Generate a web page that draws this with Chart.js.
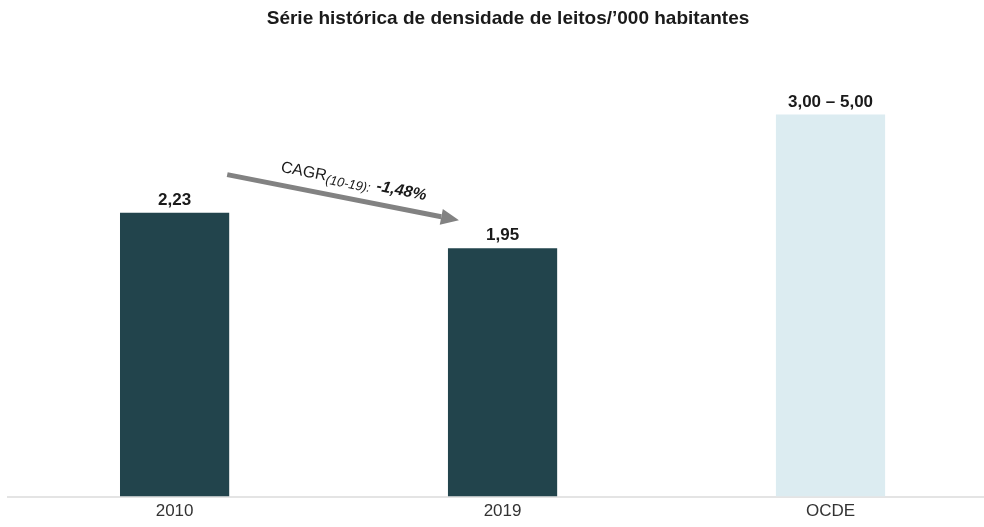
<!DOCTYPE html>
<html>
<head>
<meta charset="utf-8">
<script src="https://cdn.jsdelivr.net/npm/chart.js"></script>
<style>
  html, body { margin: 0; padding: 0; background: #fff; }
  #wrap { width: 984px; height: 527px; }
</style>
</head>
<body>
<div id="wrap"><canvas id="chart" width="984" height="527"></canvas></div>
<script>
const categories = ['2010', '2019', 'OCDE'];
const densidade = [2.23, 1.95, 3.00];
const valueLabels = ['2,23', '1,95', '3,00 – 5,00'];
const barColors = ['#22444c', '#22444c', '#dcecf1'];
const titleText = 'Série histórica de densidade de leitos/\u2019000 habitantes';
const cagrLabel = { base: 'CAGR', sub: '(10-19)', value: '-1,48%' };

const FONT = '"Liberation Sans", Arial, sans-serif';

// title, drawn by hand so it can sit a little right of centre
const titlePlugin = {
  id: 'titlePlugin',
  afterDraw(chart) {
    const ctx = chart.ctx;
    ctx.save();
    ctx.font = 'bold 19px ' + FONT;
    ctx.fillStyle = '#1a1a1a';
    ctx.textAlign = 'center';
    ctx.textBaseline = 'middle';
    ctx.fillText(titleText, 508, 19);
    ctx.restore();
  }
};

// value labels above each bar
const barLabels = {
  id: 'barLabels',
  afterDatasetsDraw(chart) {
    const ctx = chart.ctx;
    const meta = chart.getDatasetMeta(0);
    ctx.save();
    ctx.font = 'bold 17px ' + FONT;
    ctx.fillStyle = '#1a1a1a';
    ctx.textAlign = 'center';
    ctx.textBaseline = 'alphabetic';
    meta.data.forEach((bar, i) => {
      ctx.fillText(valueLabels[i], bar.x, bar.y - 8);
    });
    ctx.restore();
  }
};

// growth arrow between the two historical bars
const cagrArrow = {
  id: 'cagrArrow',
  afterDatasetsDraw(chart) {
    const ctx = chart.ctx;
    const meta = chart.getDatasetMeta(0);
    const a = meta.data[0], b = meta.data[1];
    const x0 = a.x + a.width / 2 - 2, y0 = a.y - 38;
    const x1 = b.x - b.width / 2 + 11, y1 = b.y - 28;
    const ang = Math.atan2(y1 - y0, x1 - x0);
    const head = 18;
    ctx.save();
    ctx.strokeStyle = '#828282';
    ctx.fillStyle = '#828282';
    ctx.lineWidth = 5;
    ctx.beginPath();
    ctx.moveTo(x0, y0);
    ctx.lineTo(x1 - head * Math.cos(ang), y1 - head * Math.sin(ang));
    ctx.stroke();
    ctx.translate(x1, y1);
    ctx.rotate(ang);
    ctx.beginPath();
    ctx.moveTo(0, 0);
    ctx.lineTo(-head, -8);
    ctx.lineTo(-head, 8);
    ctx.closePath();
    ctx.fill();
    ctx.restore();

    // label running along the arrow
    ctx.save();
    ctx.translate(x0 + 53, y0 - 3);
    ctx.rotate(ang);
    ctx.fillStyle = '#1a1a1a';
    ctx.textBaseline = 'alphabetic';
    let x = 0;
    ctx.font = '16px ' + FONT;
    ctx.fillText(cagrLabel.base, x, 0);
    x += ctx.measureText(cagrLabel.base).width;
    ctx.font = 'italic 13px ' + FONT;
    ctx.fillText(cagrLabel.sub + ':', x, 3);
    x += ctx.measureText(cagrLabel.sub + ': ').width + 2;
    ctx.font = 'italic bold 16px ' + FONT;
    ctx.fillText(cagrLabel.value, x, 0);
    ctx.restore();
  }
};

new Chart(document.getElementById('chart'), {
  type: 'bar',
  data: {
    datasets: [{
      data: densidade.map((v, i) => ({ x: i, y: v })),
      backgroundColor: barColors,
      borderWidth: 0,
      categoryPercentage: 1,
      barPercentage: 0.333
    }]
  },
  options: {
    responsive: false,
    animation: false,
    layout: { padding: { left: 8, right: 0, top: 42, bottom: 0 } },
    plugins: {
      legend: { display: false },
      tooltip: { enabled: false },
      title: { display: false }
    },
    scales: {
      x: {
        type: 'linear',
        offset: false,
        min: -0.508,
        max: 2.468,
        afterBuildTicks(scale) {
          scale.ticks = categories.map((c, i) => ({ value: i }));
        },
        grid: { display: false, drawTicks: false },
        border: { display: true, color: '#e4e4e4', width: 2 },
        ticks: {
          color: '#333',
          padding: 5,
          autoSkip: false,
          maxRotation: 0,
          callback: (v) => categories[v],
          font: { family: FONT, size: 17 }
        }
      },
      y: {
        display: false,
        min: 0,
        max: 3.57
      }
    }
  },
  plugins: [barLabels, cagrArrow, titlePlugin]
});
</script>
</body>
</html>
